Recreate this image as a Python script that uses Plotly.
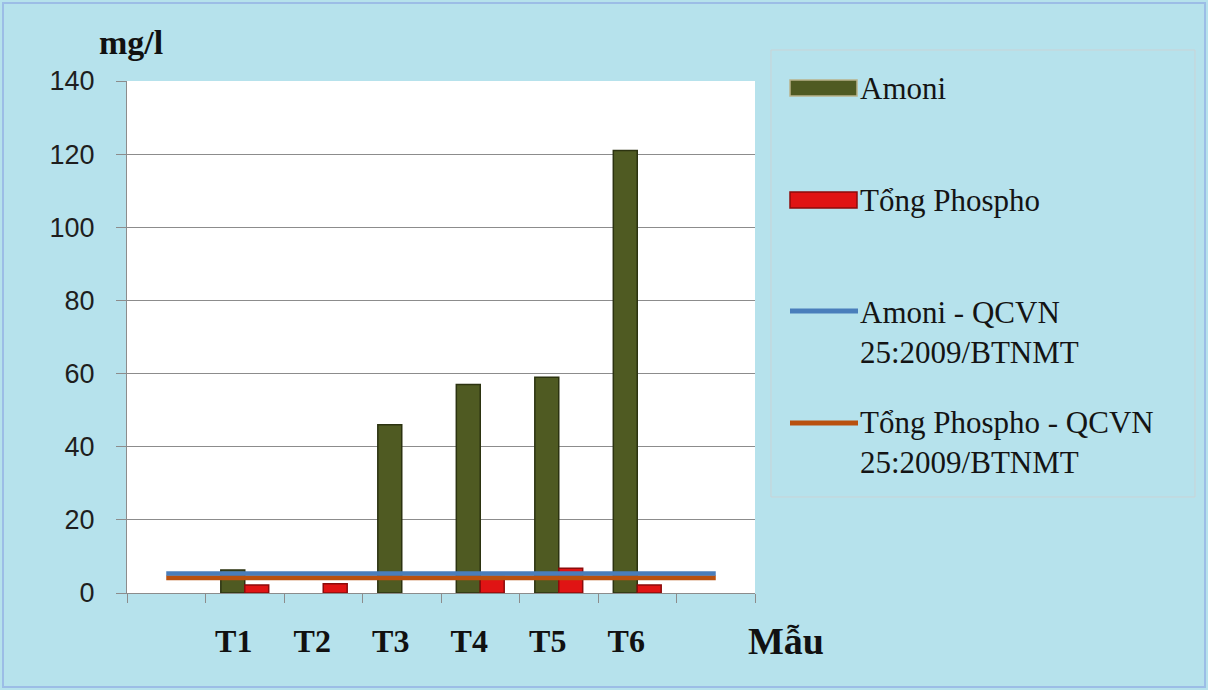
import plotly.graph_objects as go

# ---- data ----
samples = ["T1", "T2", "T3", "T4", "T5", "T6"]
amoni = [6.3, 0.0, 46.0, 57.0, 59.0, 121.0]          # Amoni (mg/l)
tong_phospho = [2.2, 2.5, 0.0, 4.5, 6.8, 2.2]        # Tổng Phospho (mg/l)
qcvn_amoni = 5.3                                      # Amoni - QCVN 25:2009/BTNMT
qcvn_phospho = 4.2                                    # Tổng Phospho - QCVN 25:2009/BTNMT
y_ticks = [0, 20, 40, 60, 80, 100, 120, 140]

legend_names = ["Amoni", "Tổng Phospho",
                "Amoni - QCVN<br>25:2009/BTNMT",
                "Tổng Phospho - QCVN<br>25:2009/BTNMT"]

# ---- layout geometry (pixels) ----
W, H = 1208, 690
L, R, T, B = 127, 755, 81, 593

def px(x):
    return (x - L) / (R - L)

def py(y):
    return (B - y) / (B - T)

OLIVE, OLIVE_EDGE = "#4f5a22", "#2c3310"
RED, RED_EDGE = "#e01414", "#8c0b0b"
BLUE, ORANGE = "#4a7ebb", "#b9510f"
SERIF = "Liberation Serif, Times New Roman, serif"
GRID = "#8c8c8c"

x_pos = list(range(1, len(samples) + 1))
# reference lines span the padded category range (one empty slot each side)
line_x = list(range(0, len(samples) + 2))

def edge_widths(vals):
    return [1.5 if v > 0 else 0 for v in vals]

fig = go.Figure()
fig.add_trace(go.Bar(x=x_pos, y=amoni, name=legend_names[0],
                     marker=dict(color=OLIVE,
                                 line=dict(color=OLIVE_EDGE, width=edge_widths(amoni))),
                     showlegend=False))
fig.add_trace(go.Bar(x=x_pos, y=tong_phospho, name=legend_names[1],
                     marker=dict(color=RED,
                                 line=dict(color=RED_EDGE, width=edge_widths(tong_phospho))),
                     showlegend=False))
fig.add_trace(go.Scatter(x=line_x, y=[qcvn_phospho] * len(line_x), mode="lines",
                         line=dict(color=ORANGE, width=5), name=legend_names[3],
                         showlegend=False))
fig.add_trace(go.Scatter(x=line_x, y=[qcvn_amoni] * len(line_x), mode="lines",
                         line=dict(color=BLUE, width=4.5), name=legend_names[2],
                         showlegend=False))

boundaries = [i - 0.5 for i in range(0, len(samples) + 3)]

fig.update_layout(
    width=W, height=H,
    margin=dict(l=L, r=W - R, t=T, b=H - B),
    paper_bgcolor="#b6e2ec",
    plot_bgcolor="white",
    barmode="group", bargap=0.39, bargroupgap=0,
    xaxis=dict(range=[-0.5, len(samples) + 1.5],
               tickmode="array", tickvals=x_pos, ticktext=samples,
               ticks="", showgrid=False, zeroline=False,
               showline=True, linecolor=GRID, linewidth=1,
               tickfont=dict(family=SERIF, size=32, color="#111111", weight="bold"),
               ticklabelstandoff=20, ticklabelshift=-11,
               minor=dict(tickmode="array", tickvals=boundaries, ticks="outside",
                          ticklen=9, tickcolor=GRID, showgrid=False)),
    yaxis=dict(range=[0, 140], tickmode="array", tickvals=y_ticks,
               showgrid=True, gridcolor=GRID, gridwidth=1,
               zeroline=False, showline=True, linecolor=GRID, linewidth=1,
               ticks="outside", ticklen=10, tickcolor=GRID,
               tickfont=dict(family="Liberation Sans, Arial, sans-serif", size=27,
                             color="#1e1e1e"),
               ticklabelstandoff=16),
)

# axis titles
fig.add_annotation(text="<b>mg/l</b>", x=px(131), y=py(42), xref="paper", yref="paper",
                   xanchor="center", yanchor="middle", showarrow=False,
                   font=dict(family=SERIF, size=34, color="#111111"))
fig.add_annotation(text="<b>Mẫu</b>", x=px(786), y=py(641), xref="paper", yref="paper",
                   xanchor="center", yanchor="middle", showarrow=False,
                   font=dict(family=SERIF, size=38, color="#111111"))

# legend panel
fig.add_shape(type="rect", xref="paper", yref="paper",
              x0=px(771), x1=px(1195), y0=py(50), y1=py(497),
              line=dict(color="#c9d3d6", width=1), fillcolor="rgba(0,0,0,0)")
fig.add_shape(type="rect", xref="paper", yref="paper",
              x0=px(790), x1=px(857), y0=py(80), y1=py(96),
              fillcolor=OLIVE, line=dict(color="#b9b38a", width=1.5))
fig.add_shape(type="rect", xref="paper", yref="paper",
              x0=px(790), x1=px(857), y0=py(192), y1=py(208),
              fillcolor=RED, line=dict(color=RED_EDGE, width=1.5))
fig.add_shape(type="line", xref="paper", yref="paper",
              x0=px(790), x1=px(858), y0=py(311), y1=py(311),
              line=dict(color=BLUE, width=5))
fig.add_shape(type="line", xref="paper", yref="paper",
              x0=px(790), x1=px(858), y0=py(423), y1=py(423),
              line=dict(color=ORANGE, width=5))

legend_y = [88, 200, 332, 442]
for name, yy in zip(legend_names, legend_y):
    fig.add_annotation(text=name, x=px(858), y=py(yy), xref="paper", yref="paper",
                       xanchor="left", yanchor="middle", align="left", showarrow=False,
                       font=dict(family=SERIF, size=31, color="#141414"))

# thin frame around the whole picture
fig.add_shape(type="rect", xref="paper", yref="paper",
              x0=px(3), x1=px(1205), y0=py(3), y1=py(687),
              line=dict(color="#9cbde6", width=2), fillcolor="rgba(0,0,0,0)", layer="below")

fig.write_html("out.html")
